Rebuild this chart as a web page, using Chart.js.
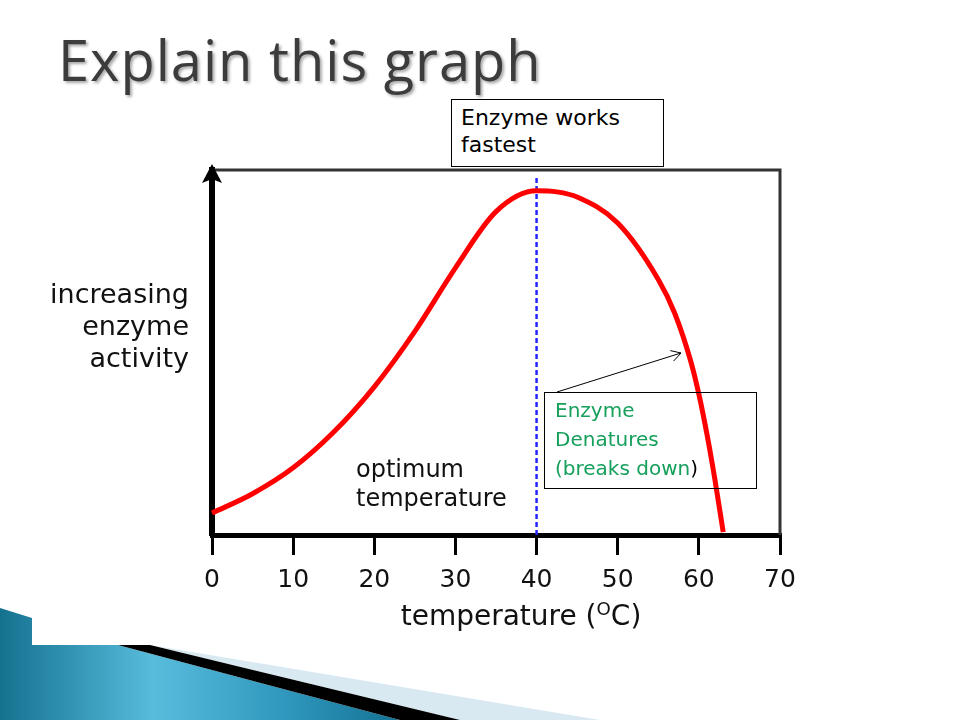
<!DOCTYPE html>
<html>
<head>
<meta charset="utf-8">
<script src="https://cdn.jsdelivr.net/npm/chart.js@4.4.1/dist/chart.umd.min.js"></script>
<style>
  body { margin: 0; background: #fff; }
  #page { position: relative; width: 960px; height: 720px; overflow: hidden; background: #fff; }
  #chart { position: absolute; left: 0; top: 0; }
  .txt { position: absolute; font-family: 'DejaVu Sans', sans-serif; color: #000; white-space: nowrap; }
  #title { left: 58px; top: 31px; font-family: 'Open Sans', sans-serif; font-size: 56px; line-height: 56px;
           color: #3c3c3c; letter-spacing: 1px; text-shadow: 2px 2px 3px rgba(0,0,0,0.35); }
  #ylab { right: 771px; top: 278px; font-size: 27px; line-height: 32px; text-align: right; color: #111; }
  #opt { left: 356px; top: 455px; font-size: 24px; line-height: 29px; color: #111; }
  #xlab { left: 321px; width: 400px; top: 600px; font-size: 28px; line-height: 32px; text-align: center; color: #111; }
  #xlab sup { font-size: 0.65em; vertical-align: 0.55em; line-height: 0; }
  .box { position: absolute; border: 1px solid #000; box-sizing: border-box; font-family: 'DejaVu Sans', sans-serif; }
  #box1 { left: 451px; top: 99px; width: 213px; height: 68px; padding: 4px 0 0 9px; font-size: 22px; line-height: 27px; background: #fff; }
  #box2 { left: 544px; top: 392px; width: 213px; height: 97px; padding: 3px 0 0 10px; font-size: 20px; line-height: 29px; color: #16a05c; }
  #box2 span { color: #000; }
  svg { position: absolute; left: 0; top: 0; }
</style>
</head>
<body>
<div id="page">
  <svg width="960" height="720">
    <defs>
      <linearGradient id="blue" x1="0" y1="0" x2="440" y2="0" gradientUnits="userSpaceOnUse">
        <stop offset="0" stop-color="#14728f"/>
        <stop offset="0.35" stop-color="#58bcdc"/>
        <stop offset="0.65" stop-color="#2f97bd"/>
        <stop offset="1" stop-color="#0b6586"/>
      </linearGradient>
    </defs>
    <polygon points="0,608 32,618 32,645 118,645 400,720 0,720" fill="url(#blue)"/>
    <polygon points="150,645 600,720 460,720" fill="#d9e9f1"/>
    <polygon points="118,645 150,645 460,720 400,720" fill="#000"/>
  </svg>
  <canvas id="chart" width="960" height="720"></canvas>
  <svg width="960" height="720">
    <line x1="557" y1="392" x2="681" y2="353" stroke="#000" stroke-width="1"/>
    <polyline points="670.3,350.6 681,353 673.6,361.1" fill="none" stroke="#000" stroke-width="1"/>
  </svg>
  <div id="title" class="txt">Explain this graph</div>
  <div id="ylab" class="txt">increasing<br>enzyme<br>activity</div>
  <div id="opt" class="txt">optimum<br>temperature</div>
  <div id="xlab" class="txt">temperature (<sup>O</sup>C)</div>
  <div id="box1" class="box">Enzyme works<br>fastest</div>
  <div id="box2" class="box">Enzyme<br>Denatures<br>(breaks down<span>)</span></div>
</div>
<script>
// temperature (°C) and enzyme activity
const temps = [0, 5, 10, 15, 20, 25, 30, 35, 40, 42.5, 45, 50, 55, 57, 59, 60, 61, 62, 63]
const activity = [6.0, 11.3, 18.4, 28.2, 40.6, 55.8, 73.2, 88.6, 94.3, 94.0, 92.6, 85.5, 70.0, 60.9, 47.6, 38.6, 27.6, 14.9, 0.8]
// optimum temperature marker
const optimumTemp = [40, 40]
const optimumLine = [0, 97.8]
const xTicks = [0, 10, 20, 30, 40, 50, 60, 70]

const toPoints = (xs, ys) => xs.map((x, i) => ({ x: x, y: ys[i] }))

// top/right frame and the arrow on the y axis
const framePlugin = {
    id: 'frame',
    afterDraw(chart) {
        const ctx = chart.ctx
        const a = chart.chartArea
        ctx.save()
        ctx.strokeStyle = '#333'
        ctx.lineWidth = 3
        ctx.beginPath()
        ctx.moveTo(a.left, a.top)
        ctx.lineTo(a.right, a.top)
        ctx.lineTo(a.right, a.bottom)
        ctx.stroke()
        ctx.fillStyle = '#000'
        ctx.beginPath()
        ctx.moveTo(a.left, a.top - 6)
        ctx.lineTo(a.left + 10, a.top + 13)
        ctx.lineTo(a.left, a.top + 9)
        ctx.lineTo(a.left - 10, a.top + 13)
        ctx.closePath()
        ctx.fill()
        ctx.restore()
    }
}

new Chart(document.getElementById('chart'), {
    type: 'line',
    data: {
        datasets: [
            {
                data: toPoints(temps, activity),
                borderColor: '#ff0000',
                borderWidth: 5,
                pointRadius: 0,
                cubicInterpolationMode: 'monotone',
                clip: false
            },
            {
                data: toPoints(optimumTemp, optimumLine),
                borderColor: '#2525ff',
                borderWidth: 2.5,
                borderDash: [5, 3],
                pointRadius: 0
            }
        ]
    },
    options: {
        responsive: false,
        animation: false,
        devicePixelRatio: 1,
        layout: { padding: { left: 212, right: 180, top: 170, bottom: 0 } },
        plugins: { legend: { display: false }, tooltip: { enabled: false } },
        scales: {
            x: {
                type: 'linear',
                min: 0,
                max: 70,
                afterFit: s => { s.height = 185 },
                afterBuildTicks: s => { s.ticks = xTicks.map(v => ({ value: v })) },
                ticks: { color: '#111', padding: 10, maxRotation: 0, autoSkip: false, font: { family: 'DejaVu Sans', size: 25 } },
                grid: { drawOnChartArea: false, drawTicks: true, tickLength: 20, color: '#000', lineWidth: 3 },
                border: { color: '#000', width: 5 }
            },
            y: {
                min: 0,
                max: 100,
                afterFit: s => { s.width = 0 },
                ticks: { display: false },
                grid: { display: false },
                border: { color: '#000', width: 6 }
            }
        }
    },
    plugins: [framePlugin]
})
</script>
</body>
</html>
